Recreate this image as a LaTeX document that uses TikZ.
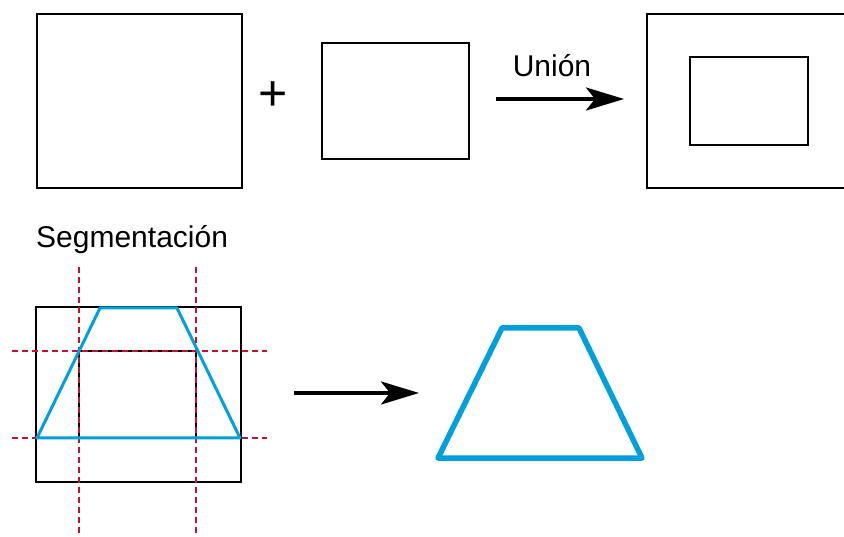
\documentclass[tikz,border=0pt]{standalone}
\usepackage{fontspec}
\setmainfont{Liberation Sans}
\usetikzlibrary{arrows.meta}
\definecolor{segblue}{RGB}{0,160,220}
\definecolor{segred}{RGB}{200,16,46}
\tikzset{
  box/.style={draw=black, line width=2pt},
  cutline/.style={draw=segred, line width=1.3pt, dash pattern=on 6pt off 4pt},
  trap/.style={draw=segblue, line width=3pt, line join=round},
  boldtrap/.style={draw=segblue, line width=5.5pt, line join=round, line cap=round},
  bigarrow/.style={line width=3.5pt, -{Stealth[length=38pt, width=23pt, inset=9pt]}},
  lbl/.style={font=\fontsize{30}{34}\selectfont, inner sep=0pt, anchor=base}
}
\begin{document}
\begin{tikzpicture}[x=1pt, y=-1pt]
\useasboundingbox (0,0) rectangle (844,537);
\clip (0,0) rectangle (844,537);
% top row
\draw[box] (37,14) rectangle (242,188);
\node[lbl, font=\fontsize{50}{56}\selectfont] (plus) at (273,110.5) {+};
\draw[box] (322,43) rectangle (469,159);
\coordinate (ua) at (496,99);
\coordinate (ub) at (624,99);
\draw[bigarrow] (ua) -- (ub);
\node[lbl] (union) at (552,77) {Unión};
\draw[box] (647,14) rectangle (870,188);
\draw[box] (690,57) rectangle (808,145);
% bottom row
\node[lbl, anchor=base west] (seg) at (36,248) {Segmentación};
\draw[box] (36,307) rectangle (241,482);
\draw[box] (79,351) rectangle (196,438);
\draw[cutline] (79,267) -- (79,537);
\draw[cutline] (196,267) -- (196,537);
\draw[cutline] (12,351) -- (267,351);
\draw[cutline] (12,438) -- (267,438);
\draw[trap] (100,308) -- (177,308) -- (240,438) -- (37,438) -- cycle;
\coordinate (sa) at (294,393);
\coordinate (sb) at (419,393);
\draw[bigarrow] (sa) -- (sb);
\draw[boldtrap] (502,328) -- (579,328) -- (642,458) -- (438,458) -- cycle;
\end{tikzpicture}
\end{document}
